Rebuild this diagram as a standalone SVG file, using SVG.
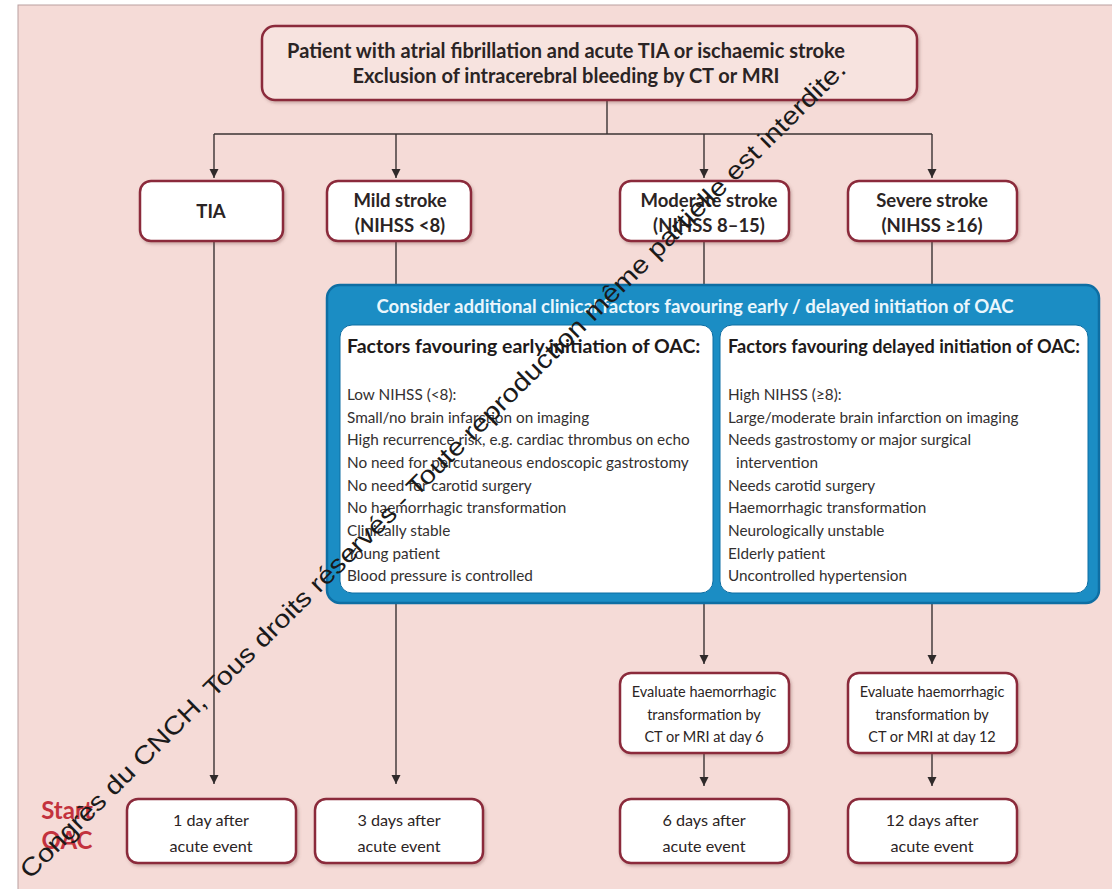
<svg xmlns="http://www.w3.org/2000/svg" width="1112" height="889" viewBox="0 0 1112 889">
<defs>
<marker id="arr" viewBox="0 0 10 10" refX="10" refY="5" markerWidth="9" markerHeight="10" markerUnits="userSpaceOnUse" orient="auto">
<path d="M0,0 L10,5 L0,10 z" fill="#2f2a2a"/>
</marker>
<filter id="sh" x="-10%" y="-10%" width="130%" height="140%">
<feDropShadow dx="1.5" dy="2" stdDeviation="1.5" flood-color="#7a4a4a" flood-opacity="0.35"/>
</filter>
</defs>
<style>
.box{fill:#ffffff;stroke:#8b2a3b;stroke-width:2.5;filter:url(#sh)}
.bt{font-family:Lato,"Liberation Sans",sans-serif;font-weight:bold;font-size:18.5px;fill:#2b2424;text-anchor:middle}
.tt{font-family:Lato,"Liberation Sans",sans-serif;font-weight:bold;font-size:20px;fill:#2b2424;text-anchor:middle}
.rt{font-family:Lato,"Liberation Sans",sans-serif;font-size:16.2px;fill:#2b2424;text-anchor:middle}
.et{font-family:Lato,"Liberation Sans",sans-serif;font-size:14.5px;fill:#2b2424;text-anchor:middle}
.it{font-family:Lato,"Liberation Sans",sans-serif;font-size:15.3px;fill:#333030}
.hd{font-family:Lato,"Liberation Sans",sans-serif;font-weight:bold;font-size:19.5px;fill:#1e1a1a}
.ln{stroke:#3a3333;stroke-width:1.4;fill:none}
.la{stroke:#3a3333;stroke-width:1.4;fill:none;marker-end:url(#arr)}
</style>
<rect x="0" y="0" width="1112" height="889" fill="#ffffff"/>
<rect x="18" y="5" width="1100" height="890" fill="#f5dbd7" stroke="#b9a0a0" stroke-width="1"/>

<g id="connectors">
<line class="ln" x1="607" y1="100" x2="607" y2="134"/>
<line class="ln" x1="214" y1="134" x2="932" y2="134"/>
<line class="la" x1="214" y1="134" x2="214" y2="178"/>
<line class="la" x1="396" y1="134" x2="396" y2="178"/>
<line class="la" x1="704" y1="134" x2="704" y2="178"/>
<line class="la" x1="932" y1="134" x2="932" y2="178"/>
<line class="la" x1="214" y1="241" x2="214" y2="784"/>
<line class="ln" x1="396" y1="241" x2="396" y2="286"/>
<line class="ln" x1="704" y1="241" x2="704" y2="286"/>
<line class="ln" x1="932" y1="241" x2="932" y2="286"/>
<line class="la" x1="396" y1="603" x2="396" y2="784"/>
<line class="la" x1="704" y1="603" x2="704" y2="664"/>
<line class="la" x1="932" y1="603" x2="932" y2="664"/>
<line class="la" x1="704" y1="753" x2="704" y2="786"/>
<line class="la" x1="932" y1="753" x2="932" y2="786"/>
</g>

<g id="top">
<rect x="262" y="26" width="655" height="74" rx="13" fill="#f7e3df" stroke="#8b2a3b" stroke-width="2.5" filter="url(#sh)"/>
<text class="tt" x="566" y="58">Patient with atrial fibrillation and acute TIA or ischaemic stroke</text>
<text class="tt" x="566" y="83">Exclusion of intracerebral bleeding by CT or MRI</text>
</g>

<g id="tia">
<rect class="box" x="140" y="181" width="143" height="60" rx="11"/>
<text class="bt" x="211" y="218">TIA</text>
</g>
<g id="mild">
<rect class="box" x="327" y="181" width="144" height="60" rx="11"/>
<text class="bt" x="400" y="207">Mild stroke</text>
<text class="bt" x="400" y="232">(NIHSS &lt;8)</text>
</g>
<g id="moderate">
<rect class="box" x="620" y="181" width="169" height="60" rx="11"/>
<text class="bt" x="709" y="207">Moderate stroke</text>
<text class="bt" x="709" y="232">(NIHSS 8–15)</text>
</g>
<g id="severe">
<rect class="box" x="848" y="181" width="169" height="60" rx="11"/>
<text class="bt" x="932" y="207">Severe stroke</text>
<text class="bt" x="932" y="232">(NIHSS ≥16)</text>
</g>

<g id="factors">
<rect x="327" y="285" width="772" height="318" rx="13" fill="#1b8dc4" stroke="#0e6ea3" stroke-width="2.5"/>
<text x="695" y="313" font-family="Lato,'Liberation Sans',sans-serif" font-weight="bold" font-size="18.6px" fill="#eaf6fc" text-anchor="middle">Consider additional clinical factors favouring early / delayed initiation of OAC</text>
<rect x="340" y="325" width="373" height="268" rx="12" fill="#ffffff" stroke="#0e6ea3" stroke-width="1"/>
<rect x="720" y="325" width="368" height="268" rx="12" fill="#ffffff" stroke="#0e6ea3" stroke-width="1"/>
</g>
<g id="early">
<text class="hd" x="347" y="353">Factors favouring early initiation of OAC:</text>
<text class="it" x="347" y="400">Low NIHSS (&lt;8):</text>
<text class="it" x="347" y="423">Small/no brain infarction on imaging</text>
<text class="it" x="347" y="445">High recurrence risk, e.g. cardiac thrombus on echo</text>
<text class="it" x="347" y="468">No need for percutaneous endoscopic gastrostomy</text>
<text class="it" x="347" y="491">No need for carotid surgery</text>
<text class="it" x="347" y="513">No haemorrhagic transformation</text>
<text class="it" x="347" y="536">Clinically stable</text>
<text class="it" x="347" y="559">Young patient</text>
<text class="it" x="347" y="581">Blood pressure is controlled</text>
</g>
<g id="delayed">
<text class="hd" x="728" y="353" textLength="352" lengthAdjust="spacingAndGlyphs">Factors favouring delayed initiation of OAC:</text>
<text class="it" x="728" y="400">High NIHSS (≥8):</text>
<text class="it" x="728" y="423">Large/moderate brain infarction on imaging</text>
<text class="it" x="728" y="445">Needs gastrostomy or major surgical</text>
<text class="it" x="736" y="468">intervention</text>
<text class="it" x="728" y="491">Needs carotid surgery</text>
<text class="it" x="728" y="513">Haemorrhagic transformation</text>
<text class="it" x="728" y="536">Neurologically unstable</text>
<text class="it" x="728" y="559">Elderly patient</text>
<text class="it" x="728" y="581">Uncontrolled hypertension</text>
</g>

<g id="eval6">
<rect class="box" x="620" y="673" width="169" height="80" rx="11"/>
<text class="et" x="704" y="697">Evaluate haemorrhagic</text>
<text class="et" x="704" y="720">transformation by</text>
<text class="et" x="704" y="742">CT or MRI at day 6</text>
</g>
<g id="eval12">
<rect class="box" x="848" y="673" width="169" height="80" rx="11"/>
<text class="et" x="932" y="697">Evaluate haemorrhagic</text>
<text class="et" x="932" y="720">transformation by</text>
<text class="et" x="932" y="742">CT or MRI at day 12</text>
</g>

<g id="start">
<text x="67" y="819" font-family="Lato,'Liberation Sans',sans-serif" font-weight="bold" font-size="24px" fill="#c3323d" text-anchor="middle">Start</text>
<text x="67" y="849" font-family="Lato,'Liberation Sans',sans-serif" font-weight="bold" font-size="24px" fill="#c3323d" text-anchor="middle">OAC</text>
</g>
<g id="d1">
<rect class="box" x="127" y="799" width="169" height="64" rx="11"/>
<text class="rt" x="211" y="826">1 day after</text>
<text class="rt" x="211" y="852">acute event</text>
</g>
<g id="d3">
<rect class="box" x="315" y="799" width="168" height="64" rx="11"/>
<text class="rt" x="399" y="826">3 days after</text>
<text class="rt" x="399" y="852">acute event</text>
</g>
<g id="d6">
<rect class="box" x="620" y="799" width="169" height="64" rx="11"/>
<text class="rt" x="704" y="826">6 days after</text>
<text class="rt" x="704" y="852">acute event</text>
</g>
<g id="d12">
<rect class="box" x="848" y="799" width="169" height="64" rx="11"/>
<text class="rt" x="932" y="826">12 days after</text>
<text class="rt" x="932" y="852">acute event</text>
</g>

<g id="watermark">
<text transform="translate(30,880) rotate(-44.7)" font-family="'Liberation Sans',Arial,sans-serif" font-size="25px" fill="#1a1a1a" textLength="1150" lengthAdjust="spacingAndGlyphs">Congrès du CNCH, Tous droits réservés - Toute reproduction même partielle est interdite.</text>
</g>
</svg>
